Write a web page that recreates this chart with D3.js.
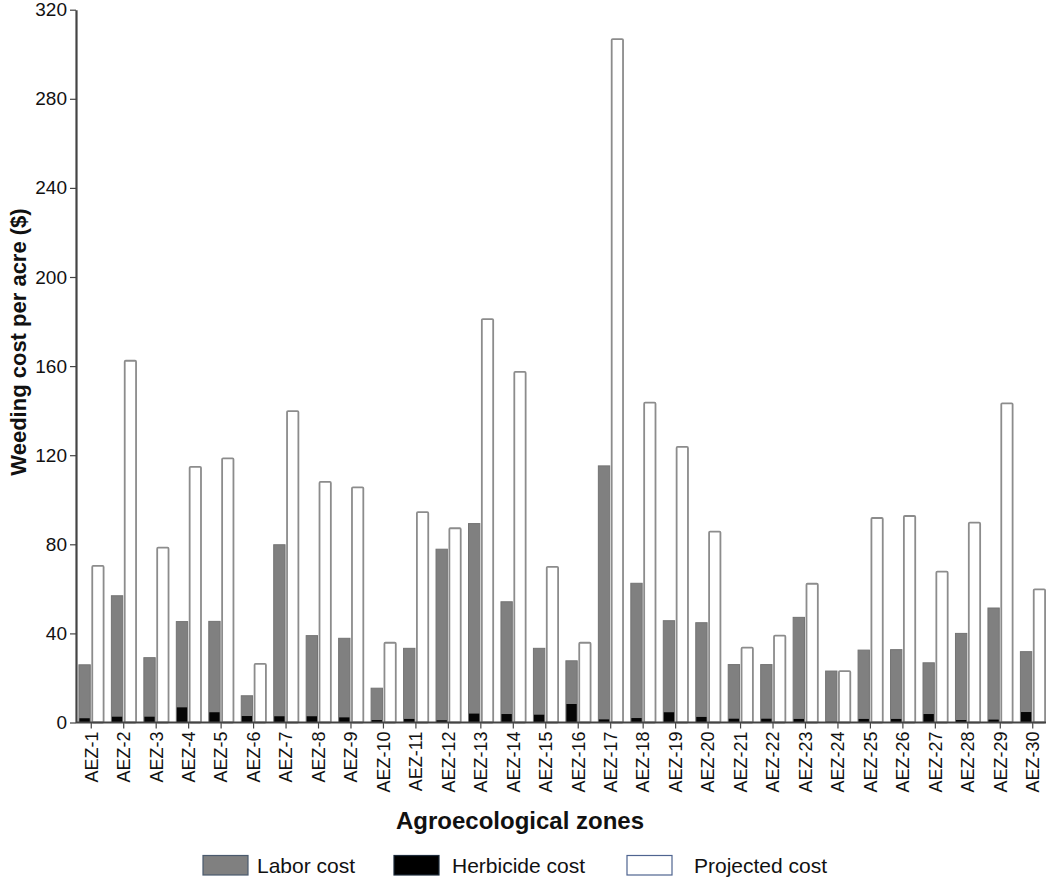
<!DOCTYPE html>
<html>
<head>
<meta charset="utf-8">
<script src="https://cdn.jsdelivr.net/npm/d3@7"></script>
<style>
  html, body { margin: 0; padding: 0; background: #fff; }
  svg { display: block; font-family: "Liberation Sans", Arial, sans-serif; }
</style>
</head>
<body>
<div id="chart"></div>
<script>
// Zones along the x axis
const zones = ['AEZ-1', 'AEZ-2', 'AEZ-3', 'AEZ-4', 'AEZ-5', 'AEZ-6', 'AEZ-7', 'AEZ-8', 'AEZ-9', 'AEZ-10',
    'AEZ-11', 'AEZ-12', 'AEZ-13', 'AEZ-14', 'AEZ-15', 'AEZ-16', 'AEZ-17', 'AEZ-18', 'AEZ-19', 'AEZ-20',
    'AEZ-21', 'AEZ-22', 'AEZ-23', 'AEZ-24', 'AEZ-25', 'AEZ-26', 'AEZ-27', 'AEZ-28', 'AEZ-29', 'AEZ-30'];

// Weeding cost per acre ($)
const laborCost = [25.9, 56.9, 29.1, 45.3, 45.4, 12.0, 79.8, 39.0, 37.8, 15.4,
    33.3, 77.8, 89.3, 54.2, 33.3, 27.7, 115.2, 62.5, 45.7, 44.8,
    26.0, 26.0, 47.2, 23.1, 32.5, 32.7, 26.8, 40.0, 51.4, 31.8];
const herbicideCost = [1.9, 2.6, 2.6, 6.8, 4.6, 2.9, 2.8, 2.8, 2.3, 1.1,
    1.6, 1.0, 4.0, 3.8, 3.5, 8.3, 1.4, 2.0, 4.6, 2.5,
    1.7, 1.7, 1.6, 0.3, 1.6, 1.6, 3.8, 1.1, 1.3, 4.7];
const projectedCost = [70.3, 162.4, 78.5, 114.8, 118.6, 26.3, 139.8, 108.0, 105.6, 35.8,
    94.4, 87.2, 181.1, 157.4, 69.9, 35.8, 306.8, 143.6, 123.7, 85.7,
    33.6, 39.0, 62.3, 23.1, 91.8, 92.7, 67.7, 89.7, 143.3, 59.8];

const yTicks = [0, 40, 80, 120, 160, 200, 240, 280, 320];

const width = 1046;
const height = 882;
const plotLeft = 76, plotRight = 1048, plotTop = 9.7, plotBottom = 722.5;

const svg = d3.select('#chart')
    .append('svg')
    .attr('width', width)
    .attr('height', height);

// Scales
const x = d3.scaleBand()
    .domain(zones)
    .range([plotLeft, plotRight])
    .paddingInner(0.24)
    .paddingOuter(0.09);

const xSub = d3.scaleBand()
    .domain(['labor', 'projected'])
    .range([0, x.bandwidth()])
    .paddingInner(0.15);

const y = d3.scaleLinear()
    .domain([0, 320])
    .range([plotBottom, plotTop]);

const rows = zones.map((z, i) => ({
    zone: z,
    labor: laborCost[i],
    herbicide: herbicideCost[i],
    projected: projectedCost[i]
}));

// Bars
const groups = svg.append('g')
    .selectAll('g')
    .data(rows)
    .join('g')
    .attr('transform', d => `translate(${x(d.zone)},0)`);

groups.append('rect')
    .attr('x', xSub('labor'))
    .attr('y', d => y(d.labor))
    .attr('width', xSub.bandwidth())
    .attr('height', d => y(0) - y(d.labor))
    .attr('fill', '#808080')
    .attr('stroke', '#737373')
    .attr('stroke-width', 1);

groups.append('rect')
    .attr('x', xSub('labor') + 0.5)
    .attr('y', d => y(d.herbicide))
    .attr('width', xSub.bandwidth() - 1)
    .attr('height', d => y(0) - y(d.herbicide))
    .attr('fill', '#050505');

groups.append('rect')
    .attr('x', xSub('projected'))
    .attr('y', d => y(d.projected))
    .attr('width', xSub.bandwidth())
    .attr('height', d => y(0) - y(d.projected))
    .attr('rx', 1)
    .attr('fill', '#fff')
    .attr('stroke', '#8c8c8c')
    .attr('stroke-width', 1.8);

// Y axis
const yAxis = svg.append('g')
    .attr('transform', `translate(${plotLeft},0)`)
    .call(d3.axisLeft(y)
        .tickValues(yTicks)
        .tickSize(6)
        .tickSizeOuter(0)
        .tickPadding(3));

yAxis.select('.domain')
    .attr('stroke', '#444')
    .attr('stroke-width', 2.2);
yAxis.selectAll('.tick line')
    .attr('stroke', '#444')
    .attr('stroke-width', 1.2);
yAxis.selectAll('.tick text')
    .style('font-size', '19px')
    .style('font-family', '"Liberation Sans", Arial, sans-serif')
    .attr('fill', '#111');

// X axis
const xAxis = svg.append('g')
    .attr('transform', `translate(0,${plotBottom})`)
    .call(d3.axisBottom(x)
        .tickSize(6)
        .tickSizeOuter(0)
        .tickPadding(2));

xAxis.select('.domain')
    .attr('d', `M${plotLeft},0H${width}`)
    .attr('stroke', '#444')
    .attr('stroke-width', 2.2);
xAxis.selectAll('.tick line')
    .attr('stroke', '#444')
    .attr('stroke-width', 1.2);
xAxis.selectAll('.tick text')
    .style('font-size', '18px')
    .style('font-family', '"Liberation Sans", Arial, sans-serif')
    .attr('fill', '#111')
    .attr('text-anchor', 'end')
    .attr('transform', 'rotate(-90)')
    .attr('x', -9)
    .attr('y', 0)
    .attr('dy', '0.35em');

// Axis titles
svg.append('text')
    .attr('transform', 'translate(26,342) rotate(-90)')
    .attr('text-anchor', 'middle')
    .style('font-size', '22px')
    .style('font-weight', 'bold')
    .attr('fill', '#111')
    .text('Weeding cost per acre ($)');

svg.append('text')
    .attr('x', 520)
    .attr('y', 829)
    .attr('text-anchor', 'middle')
    .style('font-size', '24px')
    .style('font-weight', 'bold')
    .attr('fill', '#111')
    .text('Agroecological zones');

// Legend
const legendItems = [
    { label: 'Labor cost', fill: '#808080', stroke: '#4a5a6e', bx: 203, tx: 257 },
    { label: 'Herbicide cost', fill: '#000', stroke: '#1c2a3a', bx: 394, tx: 452 },
    { label: 'Projected cost', fill: '#fff', stroke: '#4f6490', bx: 627, tx: 694 }
];

const legend = svg.append('g')
    .selectAll('g')
    .data(legendItems)
    .join('g');

legend.append('rect')
    .attr('x', d => d.bx)
    .attr('y', 855.5)
    .attr('width', 45)
    .attr('height', 19.5)
    .attr('fill', d => d.fill)
    .attr('stroke', d => d.stroke)
    .attr('stroke-width', 1.2);

legend.append('text')
    .attr('x', d => d.tx)
    .attr('y', 873)
    .style('font-size', '21px')
    .attr('fill', '#111')
    .text(d => d.label);
</script>
</body>
</html>
